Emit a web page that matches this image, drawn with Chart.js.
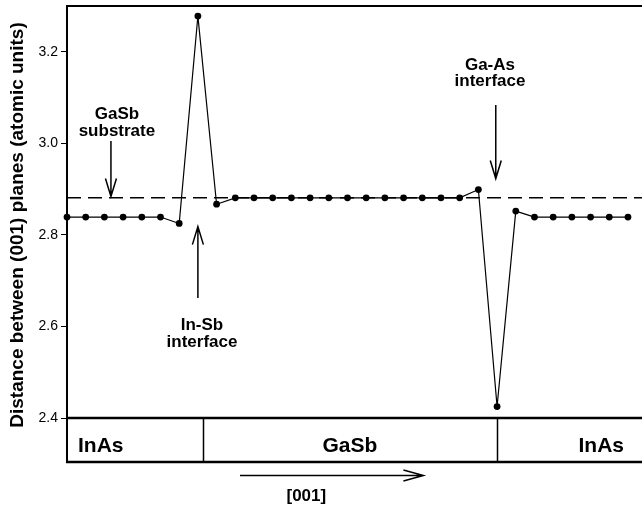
<!DOCTYPE html>
<html>
<head>
<meta charset="utf-8">
<script src="https://cdn.jsdelivr.net/npm/chart.js@4.4.0/dist/chart.umd.min.js"></script>
<style>
  html, body { margin: 0; padding: 0; background: #fff; }
  canvas { display: block; }
</style>
</head>
<body>
<canvas id="c" width="642" height="508"></canvas>
<script>
// Spacing between successive (001) planes through an InAs / GaSb / InAs stack
const planes = [0, 1, 2, 3, 4, 5, 6, 7, 8, 9, 10, 11, 12, 13, 14, 15,
                16, 17, 18, 19, 20, 21, 22, 23, 24, 25, 26, 27, 28, 29, 30];
const spacing = [2.839, 2.839, 2.839, 2.839, 2.839, 2.839, 2.825, 3.278,
                 2.867, 2.881, 2.881, 2.881, 2.881, 2.881, 2.881, 2.881,
                 2.881, 2.881, 2.881, 2.881, 2.881, 2.881, 2.899, 2.425,
                 2.852, 2.839, 2.839, 2.839, 2.839, 2.839, 2.839];
const gasbSubstrate = 2.881;           // bulk GaSb reference spacing
const yTicks = [2.4, 2.6, 2.8, 3.0, 3.2];
const layerNames = ['InAs', 'GaSb', 'InAs'];
const layerEdges = [0, 7.25, 23, 30.75];  // plane-index boundaries of the layers
const yTitle = 'Distance between (001) planes (atomic units)';

const X_MIN = layerEdges[0];
const X_MAX = layerEdges[layerEdges.length - 1];
const FONT = "'Liberation Sans', Arial, Helvetica, sans-serif";

// Arrow annotations (x in plane index, y in atomic units)
const notes = [
  { lines: ['GaSb', 'substrate'], textX: 2.67, textY: 3.053, x: 2.35, from: 3.005, to: 2.884 },
  { lines: ['In-Sb', 'interface'], textX: 7.22, textY: 2.592, x: 7.0, from: 2.662, to: 2.818 },
  { lines: ['Ga-As', 'interface'], textX: 22.62, textY: 3.161, x: 22.93, from: 3.084, to: 2.923 }
];

function drawArrow(ctx, x0, y0, x1, y1, head, half) {
  const a = Math.atan2(y1 - y0, x1 - x0);
  const c = Math.cos(a), s = Math.sin(a);
  ctx.beginPath();
  ctx.moveTo(x0, y0);
  ctx.lineTo(x1, y1);
  ctx.moveTo(x1 - head * c + half * s, y1 - head * s - half * c);
  ctx.lineTo(x1, y1);
  ctx.lineTo(x1 - head * c - half * s, y1 - head * s + half * c);
  ctx.stroke();
}

const decorations = {
  id: 'decorations',
  afterDraw(chart) {
    const { ctx, chartArea: area, scales: { x, y } } = chart;
    const bandTop = area.bottom;
    const bandBottom = bandTop + 44;
    ctx.save();
    ctx.strokeStyle = '#000';
    ctx.fillStyle = '#000';
    ctx.lineCap = 'butt';

    // frame: top edge, bottom of the plot, layer band
    ctx.lineWidth = 2;
    ctx.beginPath();
    ctx.moveTo(area.left - 1, area.top);
    ctx.lineTo(area.right, area.top);
    ctx.stroke();
    ctx.lineWidth = 2.5;
    ctx.beginPath();
    ctx.moveTo(area.left - 1, bandTop);
    ctx.lineTo(area.right, bandTop);
    ctx.moveTo(area.left - 1, bandBottom);
    ctx.lineTo(area.right, bandBottom);
    ctx.stroke();
    ctx.lineWidth = 2;
    ctx.beginPath();
    ctx.moveTo(area.left, bandTop);
    ctx.lineTo(area.left, bandBottom);
    ctx.stroke();
    ctx.lineWidth = 1.5;
    ctx.beginPath();
    for (let i = 1; i < layerEdges.length - 1; i++) {
      const px = Math.round(x.getPixelForValue(layerEdges[i])) + 0.5;
      ctx.moveTo(px, bandTop);
      ctx.lineTo(px, bandBottom);
    }
    ctx.stroke();

    // layer names
    ctx.font = `bold 21px ${FONT}`;
    ctx.textBaseline = 'alphabetic';
    const base = bandTop + 33.5;
    layerNames.forEach((name, i) => {
      const l = x.getPixelForValue(layerEdges[i]);
      const r = Math.min(x.getPixelForValue(layerEdges[i + 1]), area.right);
      if (i === 0) {
        ctx.textAlign = 'left';
        ctx.fillText(name, l + 11, base);
      } else if (i === layerNames.length - 1) {
        ctx.textAlign = 'right';
        ctx.fillText(name, r - 18, base);
      } else {
        ctx.textAlign = 'center';
        ctx.fillText(name, (l + r) / 2, base);
      }
    });

    // growth direction
    ctx.lineWidth = 1.5;
    drawArrow(ctx, x.getPixelForValue(9.25), bandBottom + 13.5,
              x.getPixelForValue(19.06), bandBottom + 13.5, 20, 5.5);
    ctx.font = `bold 17px ${FONT}`;
    ctx.textAlign = 'center';
    ctx.fillText('[001]', x.getPixelForValue(12.8), bandBottom + 39);

    // interface annotations
    notes.forEach(n => {
      const px = x.getPixelForValue(n.x);
      drawArrow(ctx, px, y.getPixelForValue(n.from), px, y.getPixelForValue(n.to), 18, 5.5);
      const tx = x.getPixelForValue(n.textX);
      const ty = y.getPixelForValue(n.textY);
      n.lines.forEach((t, k) => ctx.fillText(t, tx, ty + k * 16.5));
    });

    // vertical axis title
    ctx.font = `bold 19px ${FONT}`;
    ctx.textAlign = 'center';
    ctx.textBaseline = 'middle';
    ctx.translate(y.left + 17.5, area.top + 219);
    ctx.rotate(-Math.PI / 2);
    ctx.fillText(yTitle, 0, 0);
    ctx.restore();
  }
};

new Chart(document.getElementById('c'), {
  type: 'line',
  data: {
    datasets: [
      {
        data: planes.map((p, i) => ({ x: p, y: spacing[i] })),
        borderColor: '#000',
        backgroundColor: '#000',
        borderWidth: 1.2,
        pointRadius: 3.4,
        pointBorderWidth: 0,
        pointBackgroundColor: '#000',
        tension: 0,
        clip: false
      },
      {
        data: [{ x: X_MIN, y: gasbSubstrate }, { x: X_MAX, y: gasbSubstrate }],
        borderColor: '#000',
        borderWidth: 1.6,
        borderDash: [14, 7],
        pointRadius: 0,
        tension: 0
      }
    ]
  },
  plugins: [decorations],
  options: {
    responsive: false,
    animation: false,
    devicePixelRatio: 1,
    layout: { autoPadding: false, padding: { top: 6, right: 0, bottom: 90, left: 0 } },
    plugins: { legend: { display: false }, tooltip: { enabled: false } },
    scales: {
      x: { type: 'linear', min: X_MIN, max: X_MAX, display: false },
      y: {
        type: 'linear',
        min: 2.4,
        max: 3.3,
        afterBuildTicks: s => { s.ticks = yTicks.map(v => ({ value: v })); },
        afterFit: s => { s.width = 67; s.paddingTop = 0; s.paddingBottom = 0; },
        border: { display: true, color: '#000', width: 2 },
        grid: { drawOnChartArea: false, drawTicks: true, tickLength: 6, color: '#000', lineWidth: 1 },
        ticks: {
          color: '#000',
          padding: 3,
          font: { family: FONT, size: 14 },
          callback: v => Number(v).toFixed(1)
        },
        title: { display: false }
      }
    }
  }
});
</script>
</body>
</html>
